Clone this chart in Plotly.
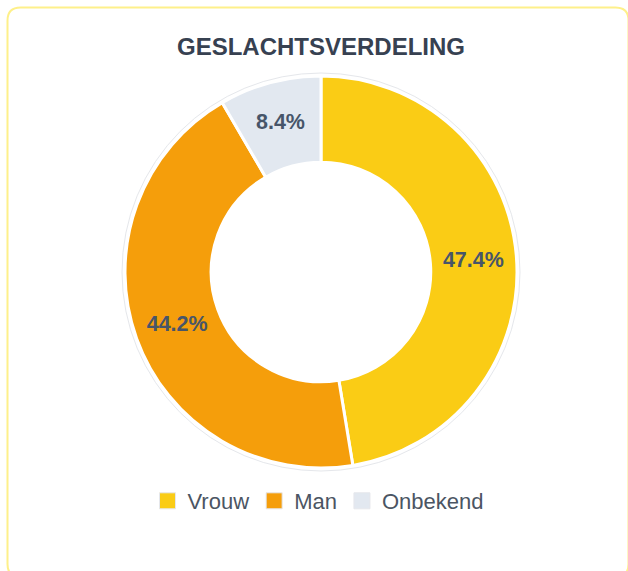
import plotly.graph_objects as go

# ---- data ----
labels = ["Vrouw", "Man", "Onbekend"]
values = [47.4, 44.2, 8.4]
colors = ["#FACC15", "#F59E0B", "#E2E8F0"]
title_text = "GESLACHTSVERDELING"

W, H = 628, 571
cx, cy, R = 321, 272, 196  # pixel centre / radius of donut
FONT = "Liberation Sans, Arial, Helvetica, sans-serif"

fig = go.Figure()
fig.add_trace(
    go.Pie(
        labels=labels,
        values=values,
        hole=0.56,
        sort=False,
        direction="clockwise",
        rotation=0,
        marker=dict(colors=colors, line=dict(color="#FFFFFF", width=3)),
        texttemplate="%{value:.1f}%",
        textposition="inside",
        insidetextorientation="horizontal",
        textfont=dict(family=FONT, size=21.5, color="#475569", weight="bold"),
        domain=dict(x=[(cx - R) / W, (cx + R) / W], y=[(H - cy - R) / H, (H - cy + R) / H]),
        hoverinfo="label+percent",
        showlegend=False,
    )
)

# legend entries with larger square boxes
for lab, col in zip(labels, colors):
    fig.add_trace(
        go.Scatter(
            x=[None], y=[None], mode="markers", name=lab,
            marker=dict(symbol="square", size=16, color=col, line=dict(color="#E5E7EB", width=1)),
            hoverinfo="skip",
        )
    )

def px_x(x):
    return x / W

def px_y(y):
    return 1 - y / H

# rounded card border
x0, y0, x1, y1, r = 7.5, 7.5, 628.5, 577, 13
path = (
    f"M {px_x(x0 + r)},{px_y(y0)} L {px_x(x1 - r)},{px_y(y0)} "
    f"Q {px_x(x1)},{px_y(y0)} {px_x(x1)},{px_y(y0 + r)} "
    f"L {px_x(x1)},{px_y(y1 - r)} Q {px_x(x1)},{px_y(y1)} {px_x(x1 - r)},{px_y(y1)} "
    f"L {px_x(x0 + r)},{px_y(y1)} Q {px_x(x0)},{px_y(y1)} {px_x(x0)},{px_y(y1 - r)} "
    f"L {px_x(x0)},{px_y(y0 + r)} Q {px_x(x0)},{px_y(y0)} {px_x(x0 + r)},{px_y(y0)} Z"
)

shapes = [
    dict(type="path", path=path, xref="paper", yref="paper",
         line=dict(color="#FEF08A", width=2), fillcolor="rgba(0,0,0,0)", layer="below"),
    dict(type="circle", xref="paper", yref="paper",
         x0=px_x(cx - R - 3), x1=px_x(cx + R + 3), y0=px_y(cy + R + 3), y1=px_y(cy - R - 3),
         line=dict(color="#E5E7EB", width=1), layer="below"),
]

fig.update_layout(
    width=W,
    height=H,
    margin=dict(l=0, r=0, t=0, b=0),
    paper_bgcolor="#FFFFFF",
    plot_bgcolor="rgba(0,0,0,0)",
    xaxis=dict(visible=False),
    yaxis=dict(visible=False),
    title=dict(
        text=f"<b>{title_text}</b>",
        x=cx / W, xanchor="center",
        y=1 - 47 / H, yanchor="middle", yref="container",
        font=dict(family=FONT, size=24, color="#374151"),
    ),
    legend=dict(
        orientation="h",
        x=(cx - 3) / W, xanchor="center",
        y=1 - 501 / H, yanchor="middle",
        font=dict(family=FONT, size=22, color="#4B5563"),
        itemsizing="trace",
    ),
    shapes=shapes,
)

fig.write_html(
    "out.html",
    config={"displayModeBar": False},
    post_script="document.body.style.margin='0';",
)
